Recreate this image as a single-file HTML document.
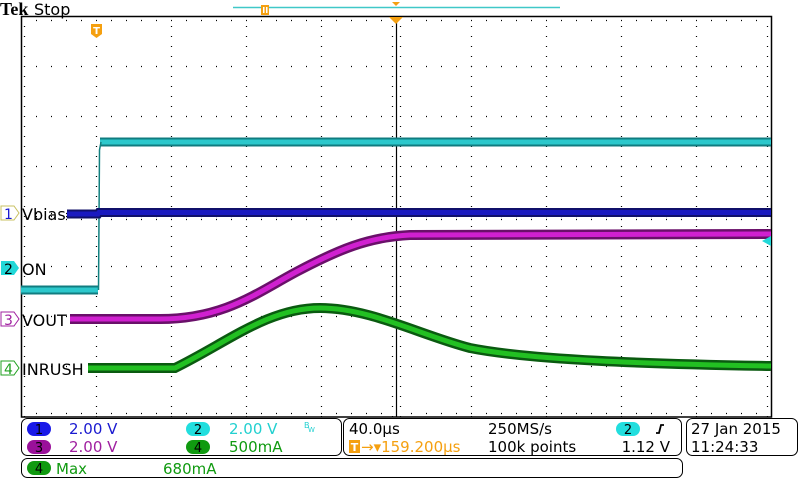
<!DOCTYPE html>
<html><head><meta charset="utf-8"><style>
body{margin:0;background:#fff;width:800px;height:480px;overflow:hidden;font-family:"Liberation Sans","DejaVu Sans",sans-serif}
svg{display:block}
text{font-family:"DejaVu Sans","Liberation Sans",sans-serif}
</style></head><body>
<svg width="800" height="480" viewBox="0 0 800 480" xmlns="http://www.w3.org/2000/svg">
<rect width="800" height="480" fill="#fff"/>
<g stroke="#000" stroke-width="1.2" stroke-dasharray="1 14">
<line x1="21" y1="66.5" x2="771" y2="66.5"/>
<line x1="21" y1="116.5" x2="771" y2="116.5"/>
<line x1="21" y1="166.5" x2="771" y2="166.5"/>
<line x1="21" y1="266.5" x2="771" y2="266.5"/>
<line x1="21" y1="316.5" x2="771" y2="316.5"/>
<line x1="21" y1="366.5" x2="771" y2="366.5"/>
<line x1="96.5" y1="16" x2="96.5" y2="417" stroke-dasharray="1 9"/>
<line x1="171.5" y1="16" x2="171.5" y2="417" stroke-dasharray="1 9"/>
<line x1="246.5" y1="16" x2="246.5" y2="417" stroke-dasharray="1 9"/>
<line x1="321.5" y1="16" x2="321.5" y2="417" stroke-dasharray="1 9"/>
<line x1="471.5" y1="16" x2="471.5" y2="417" stroke-dasharray="1 9"/>
<line x1="546.5" y1="16" x2="546.5" y2="417" stroke-dasharray="1 9"/>
<line x1="621.5" y1="16" x2="621.5" y2="417" stroke-dasharray="1 9"/>
<line x1="696.5" y1="16" x2="696.5" y2="417" stroke-dasharray="1 9"/>
<line x1="21" y1="216.5" x2="771" y2="216.5"/>
<line x1="21" y1="20.5" x2="771" y2="20.5"/>
<line x1="21" y1="413.5" x2="771" y2="413.5"/>
<line x1="24.5" y1="16" x2="24.5" y2="417" stroke-dasharray="1 9"/>
<line x1="767.5" y1="16" x2="767.5" y2="417" stroke-dasharray="1 9"/>
<line x1="392.5" y1="16" x2="392.5" y2="417" stroke-dasharray="1 9"/>
<line x1="400.5" y1="16" x2="400.5" y2="417" stroke-dasharray="1 9"/>
<line x1="21" y1="213.5" x2="771" y2="213.5"/>
<line x1="21" y1="219.5" x2="771" y2="219.5"/>
</g>
<line x1="396.5" y1="16" x2="396.5" y2="417" stroke="#000" stroke-width="1.2"/>
<rect x="21.5" y="16.5" width="750" height="400.5" fill="none" stroke="#000" stroke-width="1.5"/>

<!-- ch2 cyan -->
<path d="M21 290 L98 290 M100 142 L771 142" fill="none" stroke="#117c80" stroke-width="9"/>
<path d="M21 290 L98 290 M100 142 L771 142" fill="none" stroke="#2cc8cc" stroke-width="5"/>
<path d="M98.5 290 L99.5 150 L101 142" fill="none" stroke="#118080" stroke-width="1.5"/>
<!-- ch1 blue -->
<path d="M67 214 L98 214 L99 212.5 L771 212.5" fill="none" stroke="#10106a" stroke-width="9"/>
<path d="M67 214 L98 214 L99 212.5 L771 212.5" fill="none" stroke="#1a1ac0" stroke-width="5"/>
<!-- ch3 magenta -->
<path d="M70 319 L160 319 C225 319 258 292 298 271 C338 250 368 237 410 235 L771 234" fill="none" stroke="#6a106a" stroke-width="10"/>
<path d="M70 319 L160 319 C225 319 258 292 298 271 C338 250 368 237 410 235 L771 234" fill="none" stroke="#d020d0" stroke-width="5"/>
<!-- ch4 green -->
<path d="M88 368 L175 368 C228 342 268 308 320 308 C370 308 420 335 470 348 C530 360 650 364 771 366" fill="none" stroke="#0a5a10" stroke-width="10"/>
<path d="M88 368 L175 368 C228 342 268 308 320 308 C370 308 420 335 470 348 C530 360 650 364 771 366" fill="none" stroke="#22c022" stroke-width="5"/>
<polygon points="762,241 771,236 771,246" fill="#22d8d8"/>

<!-- top -->
<text x="0" y="15" font-weight="bold" font-size="18" fill="#000" style="font-family:'Liberation Serif',serif">Tek</text>
<text x="34" y="15" font-size="16" fill="#000">Stop</text>
<line x1="233" y1="7.5" x2="560" y2="7.5" stroke="#40c8c8" stroke-width="1.5"/>
<rect x="261" y="5" width="8" height="10" fill="#f5a010"/>
<rect x="263" y="7" width="1.5" height="6" fill="#fff"/><rect x="266" y="7" width="1.5" height="6" fill="#fff"/>
<polygon points="392,2 400,2 396,6" fill="#f5a010"/>
<polygon points="389,17 403,17 396,24" fill="#f5a010"/>
<path d="M91 24 h11 v10 l-5.5 4 l-5.5 -4 z" fill="#f5a010"/>
<text x="96.5" y="34" font-size="10" font-weight="bold" fill="#fff" text-anchor="middle">T</text>

<!-- channel labels -->
<g font-size="16" fill="#000">
<path d="M1 206 h13 l5 7 l-5 7 h-13 z" fill="#fff" stroke="#c8c060" stroke-width="1"/>
<text x="4" y="219" font-size="14" fill="#1a1ad0">1</text>
<text x="22" y="220">Vbias</text>
<path d="M1 261 h13 l5 7 l-5 7 h-13 z" fill="#22d8d8"/>
<text x="4" y="274" font-size="14" fill="#000">2</text>
<text x="22" y="275">ON</text>
<path d="M1 312 h13 l5 7 l-5 7 h-13 z" fill="#fff" stroke="#a020a0" stroke-width="1"/>
<text x="4" y="325" font-size="14" fill="#a020a0">3</text>
<text x="22" y="326">VOUT</text>
<path d="M1 361 h13 l5 7 l-5 7 h-13 z" fill="#fff" stroke="#20a020" stroke-width="1"/>
<text x="4" y="374" font-size="14" fill="#20a020">4</text>
<text x="22" y="375">INRUSH</text>
</g>

<!-- bottom panels -->
<g fill="none" stroke="#000" stroke-width="1">
<rect x="21.5" y="418.5" width="320" height="37" rx="6"/>
<rect x="343.5" y="418.5" width="338" height="37" rx="6"/>
<rect x="686.5" y="418.5" width="111" height="37" rx="6"/>
<rect x="21.5" y="458.5" width="661" height="19" rx="6"/>
</g>
<g font-size="15">
<rect x="27" y="422" width="24" height="14" rx="7" fill="#1a1ae8"/><text x="39" y="434" text-anchor="middle" font-size="13" fill="#000">1</text>
<text x="69" y="434" fill="#1a1ad0">2.00 V</text>
<rect x="27" y="440" width="24" height="14" rx="7" fill="#9a109a"/><text x="39" y="452" text-anchor="middle" font-size="13" fill="#000">3</text>
<text x="69" y="452" fill="#a020a0">2.00 V</text>
<rect x="186" y="422" width="24" height="14" rx="7" fill="#22dede"/><text x="198" y="434" text-anchor="middle" font-size="13" fill="#000">2</text>
<text x="229" y="434" fill="#22d0d0">2.00 V</text>
<text x="304" y="428" font-size="8" fill="#22d0d0">B</text><text x="308" y="432" font-size="7" fill="#22d0d0">W</text>
<rect x="186" y="440" width="24" height="14" rx="7" fill="#109a10"/><text x="198" y="452" text-anchor="middle" font-size="13" fill="#000">4</text>
<text x="229" y="452" fill="#109a10">500mA</text>
<text x="349" y="434" fill="#000">40.0µs</text>
<rect x="349" y="440" width="11" height="13" fill="#f5a010"/><text x="354.5" y="451" text-anchor="middle" font-size="11" font-weight="bold" fill="#fff">T</text>
<text x="361" y="452" fill="#f5a010">→▾159.200µs</text>
<text x="488" y="434" fill="#000">250MS/s</text>
<text x="488" y="452" fill="#000">100k points</text>
<rect x="616" y="422" width="24" height="14" rx="7" fill="#22dede"/><text x="628" y="434" text-anchor="middle" font-size="13" fill="#000">2</text>
<path d="M656 433 h3 l2 -8 h3" fill="none" stroke="#000" stroke-width="1.8"/>
<text x="670" y="452" text-anchor="end" fill="#000">1.12 V</text>
<text x="691" y="434" fill="#000">27 Jan  2015</text>
<text x="691" y="452" fill="#000">11:24:33</text>
<rect x="27" y="461" width="24" height="14" rx="7" fill="#109a10"/><text x="39" y="473" text-anchor="middle" font-size="13" fill="#000">4</text>
<text x="56" y="474" fill="#109a10">Max</text>
<text x="163" y="474" fill="#109a10">680mA</text>
</g>
</svg>
</body></html>
